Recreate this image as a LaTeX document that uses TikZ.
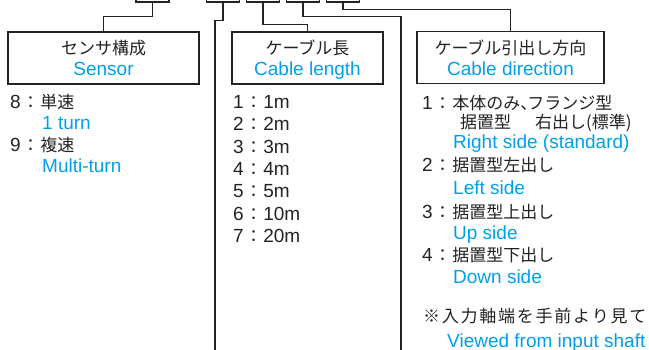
\documentclass[tikz,border=0pt]{standalone}
\usepackage{fontspec}
\setmainfont{Liberation Sans}
\newfontfamily\jp{Noto Sans CJK JP}
\definecolor{skyb}{RGB}{0,160,233}
\definecolor{ink}{RGB}{35,35,35}
\newcommand\J{\jp\fontsize{17}{21}\selectfont}
\newcommand\jcolon{\makebox[19.5pt]{\J ：}}
\newcommand\wc[1]{\makebox[18.75pt]{#1}}
\begin{document}
\begin{tikzpicture}[x=1pt,y=-1pt,
  lbox/.style={draw=ink, line width=1.3pt, rectangle, minimum height=52pt, inner sep=0pt},
  stub/.style={draw=ink, line width=1.3pt, rectangle, minimum width=33pt, minimum height=20pt, inner sep=0pt},
  wire/.style={draw=ink, line width=1.2pt},
  ttl/.style={anchor=base, inner sep=0pt, font=\fontsize{19}{21}\selectfont, text=ink},
  ttle/.style={ttl, text=skyb},
  item/.style={anchor=base west, inner sep=0pt, font=\fontsize{19}{21}\selectfont, text=ink},
  eng/.style={item, text=skyb}]
\useasboundingbox (0,0) rectangle (649,349);
% cut-off code boxes at top
\node[stub] (t1) at (152.5,-8) {};
\node[stub] (t2) at (223,-8) {};
\node[stub] (t3) at (263,-8) {};
\node[stub] (t4) at (303,-8) {};
\node[stub] (t5) at (343,-8) {};
% boxes
\node[lbox, minimum width=191pt] (sbox) at (103.5,58) {};
\node[lbox, minimum width=151pt] (cbox) at (307.5,58) {};
\node[lbox, minimum width=187pt] (dbox) at (510.5,57.5) {};
% box titles
\node[ttl] (st) at (103.5,54) {\J センサ構成};
\node[ttle] (se) at (103.5,75) {Sensor};
\node[ttl] (ct) at (307.5,54) {\J ケーブル長};
\node[ttle] (ce) at (307.5,75) {Cable length};
\node[ttl] (dt) at (510.5,54) {\J ケーブル引出し方向};
\node[ttle] (de) at (510.5,75) {Cable direction};
% connectors
\coordinate (e2) at (215,352);
\coordinate (e4) at (401,352);
\draw[wire] (t1.south) -- ++(0,14) -| (sbox.north);
\draw[wire] (t2.south) -- ++(0,18) -| (e2);
\draw[wire] (t3.south) -- ++(0,22) -| (cbox.north);
\draw[wire] (t4.south) -- ++(0,14) -| (e4);
\draw[wire] (t5.south) -- ++(0,7) -| (dbox.north);
% sensor items
\node[item] (s8) at (10,108) {8\jcolon{\J 単速}};
\node[eng] (s8e) at (42,129.5) {1 turn};
\node[item] (s9) at (10,151.5) {9\jcolon{\J 複速}};
\node[eng] (s9e) at (42,172.5) {Multi-turn};
% cable length items
\node[item] (c1) at (233,108.5) {1\jcolon 1m};
\node[item] (c2) at (233,130.8) {2\jcolon 2m};
\node[item] (c3) at (233,153.2) {3\jcolon 3m};
\node[item] (c4) at (233,175.5) {4\jcolon 4m};
\node[item] (c5) at (233,197.9) {5\jcolon 5m};
\node[item] (c6) at (233,220.2) {6\jcolon 10m};
\node[item] (c7) at (233,242.6) {7\jcolon 20m};
% cable direction items
\node[item] (d1) at (422,109.5) {1\jcolon{\J 本体のみ\makebox[7pt][l]{、}フランジ型}};
\node[item] (d1b) at (460,128.5) {{\J 据置型\hspace{24pt}右出し(標準)}};
\node[eng] (d1e) at (453,148.5) {Right side (standard)};
\node[item] (d2) at (422,171.5) {2\jcolon{\J 据置型左出し}};
\node[eng] (d2e) at (453,194.5) {Left side};
\node[item] (d3) at (422,218.5) {3\jcolon{\J 据置型上出し}};
\node[eng] (d3e) at (453,239.5) {Up side};
\node[item] (d4) at (422,261.5) {4\jcolon{\J 据置型下出し}};
\node[eng] (d4e) at (453,283.5) {Down side};
\node[item] (nt) at (422,322.5) {\J \wc{※}\wc{入}\wc{力}\wc{軸}\wc{端}\wc{を}\wc{手}\wc{前}\wc{よ}\wc{り}\wc{見}\wc{て}};
\node[eng] (nte) at (447,347) {Viewed from input shaft};
\end{tikzpicture}
\end{document}
